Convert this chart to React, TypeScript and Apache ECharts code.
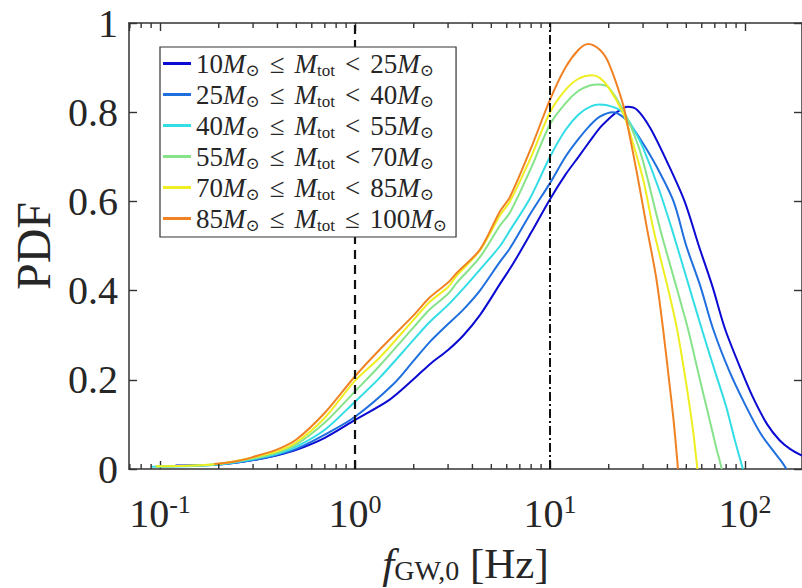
import React, { useEffect, useRef } from 'react';
import * as echarts from 'echarts';

// ---- data ----
const massLow = [10, 25, 40, 55, 70, 85];
const massHigh = [25, 40, 55, 70, 85, 100];
const upperRel = ['<', '<', '<', '<', '<', '≤'];
const lineColors = ['#0a0ad2', '#1f6fdf', '#33dde6', '#86e38a', '#eeee22', '#f08224'];

const freq1 = [0.12, 0.2, 0.3, 0.4, 0.5, 0.7, 1, 1.5, 1.98, 2.42, 3, 3.6, 4.37, 5.54, 6.46, 8, 10, 12, 14, 16, 18, 20, 22, 25, 28, 32.6, 39.7, 49, 58, 68, 79, 96, 110, 130, 150, 170, 196];
const pdf1 = [0.008, 0.01, 0.02, 0.031, 0.043, 0.07, 0.11, 0.155, 0.2, 0.235, 0.267, 0.3, 0.345, 0.415, 0.46, 0.53, 0.605, 0.66, 0.7, 0.735, 0.765, 0.785, 0.8, 0.812, 0.805, 0.765, 0.69, 0.6, 0.5, 0.41, 0.314, 0.22, 0.16, 0.1, 0.065, 0.045, 0.03];

const freq2 = [0.1, 0.2, 0.3, 0.4, 0.5, 0.7, 1, 1.57, 2, 2.42, 3, 3.6, 4.37, 5.54, 6.23, 8, 10, 12, 14, 16, 18, 21, 23.6, 26, 30, 35, 43, 50, 59, 68.6, 83, 100, 120, 140, 155, 163];
const pdf2 = [0.006, 0.01, 0.02, 0.032, 0.045, 0.077, 0.117, 0.19, 0.243, 0.285, 0.325, 0.358, 0.4, 0.465, 0.495, 0.575, 0.641, 0.7, 0.74, 0.77, 0.79, 0.8, 0.79, 0.77, 0.73, 0.68, 0.6, 0.5, 0.41, 0.314, 0.22, 0.145, 0.08, 0.04, 0.015, 0];

const freq3 = [0.09, 0.15, 0.2, 0.3, 0.4, 0.5, 0.7, 1, 1.34, 2, 2.42, 3, 3.6, 4.37, 5.54, 6.23, 7.9, 10, 12, 14, 16, 18, 21, 23.6, 27, 30, 36, 42, 50, 60, 70, 80, 88, 94, 97.5];
const pdf3 = [0.005, 0.007, 0.01, 0.022, 0.034, 0.05, 0.088, 0.151, 0.205, 0.29, 0.33, 0.368, 0.405, 0.447, 0.5, 0.535, 0.607, 0.7, 0.76, 0.795, 0.812, 0.817, 0.812, 0.8, 0.76, 0.72, 0.63, 0.54, 0.43, 0.314, 0.22, 0.14, 0.07, 0.025, 0];

const freq4 = [0.095, 0.15, 0.2, 0.3, 0.4, 0.5, 0.7, 1, 1.34, 2, 2.42, 3, 3.33, 4.37, 5.54, 6.23, 8, 10, 12, 14, 16, 17.7, 20, 23.6, 27, 30, 36.6, 45, 51, 58, 65, 71, 74, 76];
const pdf4 = [0.006, 0.008, 0.011, 0.024, 0.037, 0.055, 0.104, 0.174, 0.232, 0.318, 0.358, 0.393, 0.418, 0.475, 0.546, 0.575, 0.675, 0.773, 0.82, 0.848, 0.86, 0.862, 0.855, 0.806, 0.75, 0.69, 0.54, 0.4, 0.314, 0.21, 0.12, 0.05, 0.02, 0];

const freq5 = [0.095, 0.15, 0.2, 0.3, 0.4, 0.5, 0.7, 1, 1.34, 2, 2.42, 3, 3.33, 4.37, 5.54, 6.23, 8, 10, 12, 14, 16.4, 18, 20, 23.6, 25, 30, 33.8, 40, 44.8, 50, 54, 56, 57];
const pdf5 = [0.006, 0.008, 0.012, 0.026, 0.04, 0.06, 0.115, 0.198, 0.25, 0.335, 0.375, 0.408, 0.434, 0.49, 0.569, 0.6, 0.7, 0.8, 0.85, 0.875, 0.883, 0.877, 0.855, 0.8, 0.77, 0.65, 0.54, 0.41, 0.314, 0.19, 0.09, 0.03, 0];

const freq6 = [0.19, 0.25, 0.3, 0.4, 0.5, 0.7, 1, 1.34, 2, 2.42, 3, 3.33, 4.37, 5.54, 6.23, 8, 10, 12, 14, 15.7, 18, 20, 23.6, 25, 28, 31.4, 35, 38, 41, 43, 44.5, 45.3];
const pdf6 = [0.011, 0.018, 0.027, 0.044, 0.066, 0.126, 0.208, 0.268, 0.345, 0.385, 0.418, 0.44, 0.492, 0.578, 0.61, 0.72, 0.828, 0.9, 0.94, 0.953, 0.94, 0.91, 0.82, 0.77, 0.66, 0.54, 0.43, 0.314, 0.19, 0.11, 0.04, 0];

const freqs = [freq1, freq2, freq3, freq4, freq5, freq6];
const pdfs = [pdf1, pdf2, pdf3, pdf4, pdf5, pdf6];

const xMin = 0.0693;
const xMax = 196;
const dashedLineAt = 1;
const dashDotLineAt = 10;

const SERIF = "'Liberation Serif', 'DejaVu Serif', serif";
const TEXT = '#262626';
const AXIS = '#333333';

// minor tick positions of the log axis (2..9 within each decade)
const minorTicks: number[] = [];
for (let e = -2; e <= 2; e++) {
  for (let k = 2; k <= 9; k++) {
    const v = k * Math.pow(10, e);
    if (v > xMin && v < xMax) minorTicks.push(v);
  }
}

const plainName = (i: number) => `${massLow[i]}M⊙ ≤ Mtot ${upperRel[i]} ${massHigh[i]}M⊙`;
const richName = (i: number) =>
  `{n|${massLow[i]}}{i|M}{sub|⊙}{r|≤}{i|M}{sub|tot}{r|${upperRel[i]}}{n|${massHigh[i]}}{i|M}{sub|⊙}`;

export default function App() {
  const ref = useRef<HTMLDivElement>(null);
  useEffect(() => {
    if (!ref.current) return;
    const chart = echarts.init(ref.current, undefined, { renderer: 'svg' });
    const names = massLow.map((_, i) => plainName(i));
    const nameMap: Record<string, string> = {};
    names.forEach((n, i) => (nameMap[n] = richName(i)));

    const lineSeries: any[] = names.map((name, i) => ({
      name,
      type: 'line',
      data: freqs[i].map((f, j) => [f, pdfs[i][j]]),
      showSymbol: false,
      symbol: 'none',
      smooth: 0.3,
      color: lineColors[i],
      lineStyle: { color: lineColors[i], width: 2 },
      z: 3,
      markLine:
        i === 0
          ? {
              silent: true,
              symbol: ['none', 'none'],
              label: { show: false },
              data: [
                { xAxis: dashedLineAt, lineStyle: { type: [9, 6], color: '#111', width: 2.2 } },
                { xAxis: dashDotLineAt, lineStyle: { type: [9, 3, 2, 3], color: '#111', width: 2 } },
              ],
            }
          : undefined,
    }));

    // minor ticks of the log x axes (bottom and top), drawn inward
    const minorTickSeries = {
      type: 'custom',
      silent: true,
      clip: false,
      xAxisIndex: 0,
      yAxisIndex: 0,
      data: minorTicks.map((v) => [v, 0]),
      encode: { x: 0, y: 1 },
      renderItem: (params: any, api: any) => {
        const v = api.value(0);
        const b = api.coord([v, 0]);
        const t = api.coord([v, 1]);
        return {
          type: 'group',
          children: [
            { type: 'line', shape: { x1: b[0], y1: b[1], x2: b[0], y2: b[1] - 5 }, style: { stroke: AXIS, lineWidth: 1.4 } },
            { type: 'line', shape: { x1: t[0], y1: t[1], x2: t[0], y2: t[1] + 5 }, style: { stroke: AXIS, lineWidth: 1.4 } },
          ],
        };
      },
      z: 5,
    };

    const axisLine = { show: true, onZero: false, lineStyle: { color: AXIS, width: 1.5 } };
    const axisTick = { show: true, inside: true, length: 8, lineStyle: { color: AXIS, width: 1.4 } };

    chart.setOption({
      animation: false,
      backgroundColor: '#ffffff',
      grid: { left: 129, top: 23, width: 673, height: 446, containLabel: false, outerBoundsMode: 'none' },
      legend: {
        show: true,
        data: names,
        orient: 'vertical',
        left: 160,
        top: 47,
        padding: [1, 9, 3, 3],
        itemGap: 0,
        itemWidth: 28,
        itemHeight: 3,
        icon: 'rect',
        backgroundColor: '#ffffff',
        borderColor: '#333333',
        borderWidth: 1.2,
        borderRadius: 0,
        selectedMode: false,
        z: 10,
        formatter: (name: string) => nameMap[name] || name,
        textStyle: {
          color: TEXT,
          fontFamily: SERIF,
          fontSize: 27,
          lineHeight: 31,
          rich: {
            n: { fontFamily: SERIF, fontSize: 27, lineHeight: 31, color: TEXT },
            i: { fontFamily: SERIF, fontStyle: 'italic', fontSize: 27, lineHeight: 31, color: TEXT },
            sub: { fontFamily: SERIF, fontSize: 17, lineHeight: 16, verticalAlign: 'bottom', color: TEXT },
            r: { fontFamily: SERIF, fontSize: 27, lineHeight: 31, padding: [0, 10, 0, 10], color: TEXT },
          },
        },
      },
      xAxis: [
        {
          type: 'log',
          logBase: 10,
          min: xMin,
          max: xMax,
          position: 'bottom',
          axisLine,
          axisTick,
          splitLine: { show: false },
          minorTick: { show: false },
          axisLabel: {
            show: true,
            margin: 22,
            showMinLabel: false,
            showMaxLabel: false,
            formatter: (v: number) => {
              const e = Math.log10(v);
              const r = Math.round(e);
              if (Math.abs(e - r) > 1e-6) return '';
              return `{b|10}{s|${r}}`;
            },
            rich: {
              b: { fontFamily: SERIF, fontSize: 40, lineHeight: 44, color: TEXT },
              s: { fontFamily: SERIF, fontSize: 26, lineHeight: 20, verticalAlign: 'top', color: TEXT },
            },
          },
          name: '{i|f}{s|GW,0}{n| [Hz]}',
          nameLocation: 'middle',
          nameGap: 73,
          nameTextStyle: {
            color: TEXT,
            rich: {
              i: { fontFamily: SERIF, fontStyle: 'italic', fontSize: 43, lineHeight: 42, color: TEXT },
              s: { fontFamily: SERIF, fontSize: 28, lineHeight: 23, verticalAlign: 'bottom', color: TEXT },
              n: { fontFamily: SERIF, fontSize: 43, lineHeight: 42, color: TEXT },
            },
          },
        },
        {
          type: 'log',
          logBase: 10,
          min: xMin,
          max: xMax,
          position: 'top',
          axisLine,
          axisTick,
          axisLabel: { show: false },
          splitLine: { show: false },
        },
      ],
      yAxis: [
        {
          type: 'value',
          min: 0,
          max: 1,
          interval: 0.2,
          position: 'left',
          axisLine,
          axisTick,
          splitLine: { show: false },
          axisLabel: { fontFamily: SERIF, fontSize: 40, color: TEXT, margin: 11 },
          name: 'PDF',
          nameLocation: 'middle',
          nameRotate: 90,
          nameGap: 69,
          nameTextStyle: { fontFamily: SERIF, fontSize: 48, color: TEXT },
        },
        {
          type: 'value',
          min: 0,
          max: 1,
          interval: 0.2,
          position: 'right',
          axisLine,
          axisTick,
          axisLabel: { show: false },
          splitLine: { show: false },
        },
      ],
      series: [...lineSeries, minorTickSeries],
    });
    return () => chart.dispose();
  }, []);
  return <div ref={ref} style={{ position: 'absolute', left: 0, top: 0, width: 802, height: 588 }} />;
}
